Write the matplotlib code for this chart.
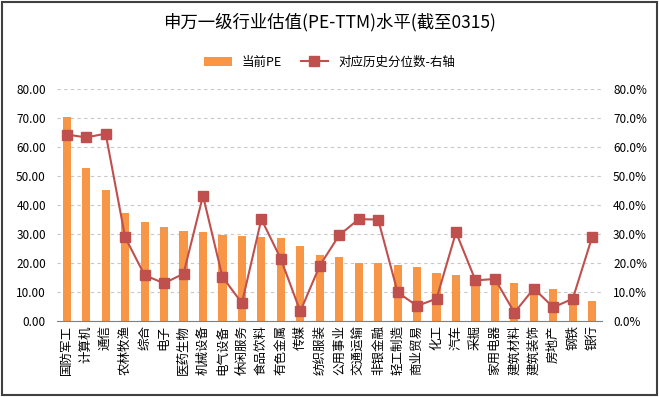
import matplotlib
matplotlib.use("Agg")
import matplotlib.pyplot as plt
from matplotlib.ticker import FuncFormatter, MultipleLocator
from matplotlib.patches import Rectangle

plt.rcParams['font.family'] = ['Noto Sans CJK SC', 'DejaVu Sans']

# 行业、当前PE、历史分位数(%)
industries = ['国防军工', '计算机', '通信', '农林牧渔', '综合', '电子', '医药生物', '机械设备',
              '电气设备', '休闲服务', '食品饮料', '有色金属', '传媒', '纺织服装', '公用事业',
              '交通运输', '非银金融', '轻工制造', '商业贸易', '化工', '汽车', '采掘', '家用电器',
              '建筑材料', '建筑装饰', '房地产', '钢铁', '银行']
pe_now = [70.2, 52.8, 45.0, 37.2, 34.1, 32.5, 31.0, 30.6, 29.6, 29.3, 28.8, 28.5, 26.0, 22.9,
          22.2, 20.0, 19.9, 19.4, 18.6, 16.5, 15.7, 14.5, 14.8, 13.0, 12.0, 10.9, 9.0, 6.8]
pe_pct = [64.3, 63.3, 64.6, 28.9, 15.8, 13.0, 16.3, 43.2, 15.2, 6.2, 35.1, 21.4, 3.3, 19.1,
          29.6, 35.1, 35.0, 9.9, 5.2, 7.7, 30.6, 14.0, 14.5, 2.9, 11.2, 4.7, 7.7, 29.1]

bar_color = '#F79646'
line_color = '#C0504D'

fig = plt.figure(figsize=(6.59, 3.97), dpi=100)
ax = fig.add_axes([57 / 659, 1 - 321 / 397, 545 / 659, 232 / 397])
x = list(range(len(industries)))

ax.bar(x, pe_now, width=0.42, color=bar_color, zorder=2, label='当前PE')
ax.set_xlim(-0.5, len(industries) - 0.5)
ax.set_ylim(0, 80)
ax.yaxis.set_major_locator(MultipleLocator(10))
ax.yaxis.set_major_formatter(FuncFormatter(lambda v, p: f'{v:.2f}'))
ax.grid(axis='y', linestyle=(0, (3, 3)), color='#C8C8C8', linewidth=0.8, zorder=0)
ax.set_xticks(x)
ax.set_xticklabels(industries, rotation=90, fontsize=9, va='top', ha='center')
ax.tick_params(axis='x', length=0, pad=3)
ax.tick_params(axis='y', length=0, labelsize=8.5, pad=8)
for s in ['top', 'right', 'left']:
    ax.spines[s].set_visible(False)
ax.spines['bottom'].set_color('#808080')

ax2 = ax.twinx()
ax2.plot(x, pe_pct, color=line_color, linewidth=1.5, marker='s', markersize=7,
         zorder=3, label='对应历史分位数-右轴')
ax2.set_ylim(0, 80)
ax2.yaxis.set_major_locator(MultipleLocator(10))
ax2.yaxis.set_major_formatter(FuncFormatter(lambda v, p: f'{v:.1f}%'))
ax2.tick_params(axis='y', length=0, labelsize=8.5, pad=8)
for s in ['top', 'right', 'left', 'bottom']:
    ax2.spines[s].set_visible(False)

fig.text(0.5, 1 - 22 / 397, '申万一级行业估值(PE-TTM)水平(截至0315)', ha='center', va='center',
         fontsize=12.5)

h1, l1 = ax.get_legend_handles_labels()
h2, l2 = ax2.get_legend_handles_labels()
fig.legend(h1 + h2, l1 + l2, loc='center', bbox_to_anchor=(0.5, 1 - 62 / 397), ncol=2,
           frameon=False, fontsize=9, handlelength=2.2, columnspacing=1.5)

fig.patches.append(Rectangle((0.003, 0.004), 0.994, 0.992, transform=fig.transFigure,
                             fill=False, edgecolor='#404040', linewidth=1.5))

fig.savefig('out.png', dpi=100)
